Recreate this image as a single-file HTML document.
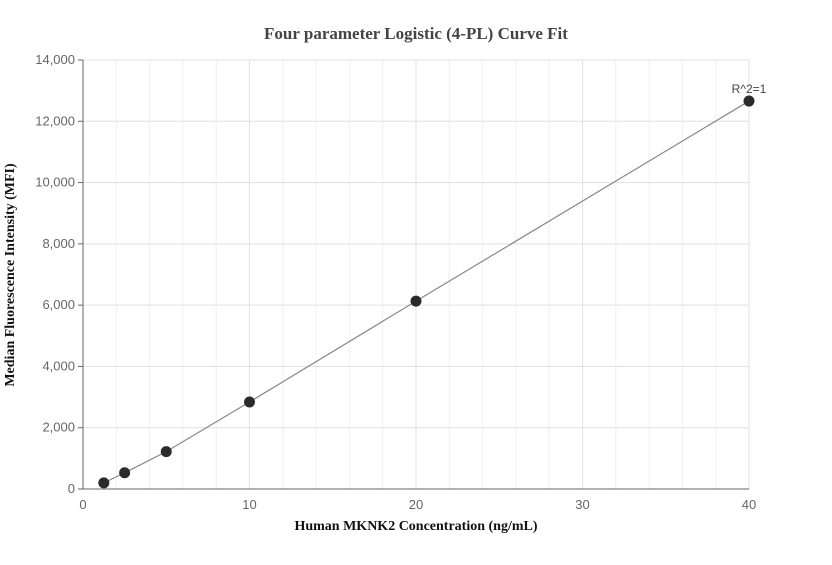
<!DOCTYPE html>
<html><head><meta charset="utf-8"><style>
body{margin:0;background:#fff;}
svg{font-family:"Liberation Sans",sans-serif;}
</style></head><body>
<svg id="c" width="832" height="560"></svg>
<script>
const xTicks=[0,10,20,30,40];
const yTicks=[0,2000,4000,6000,8000,10000,12000,14000];
const xVals=[1.25,2.5,5,10,20,40];
const yVals=[200,530,1220,2840,6130,12660];
const svg=document.getElementById('c');
const NS='http://www.w3.org/2000/svg';
const X0=83,X1=749,Y0=489,Y1=60;
const sx=v=>X0+(v-0)/(40-0)*(X1-X0);
const sy=v=>Y0-(v-0)/(14000-0)*(Y0-Y1);
function mk(t,a,txt){const e=document.createElementNS(NS,t);for(const k in a)e.setAttribute(k,a[k]);if(txt!==undefined)e.textContent=txt;svg.appendChild(e);return e;}
for(let v=2;v<40;v+=2){if(v%10===0)continue;
const g=mk('line',{x1:sx(v),x2:sx(v),y1:Y1,y2:Y0,stroke:'#f0f0f0','stroke-width':1});

}
xTicks.forEach(v=>{
if(v>0){const g=mk('line',{x1:sx(v),x2:sx(v),y1:Y1,y2:Y0,stroke:'#e0e0e0','stroke-width':1});

}
const t=mk('text',{x:sx(v),y:Y0+20,'text-anchor':'middle','font-size':13,fill:'#666'},String(v));


});
yTicks.forEach(v=>{
if(v>0){const g=mk('line',{x1:X0,x2:X1,y1:sy(v),y2:sy(v),stroke:'#e0e0e0','stroke-width':1});

}
const tk=mk('line',{x1:X0-5,x2:X0,y1:sy(v),y2:sy(v),stroke:'#666'});


const t=mk('text',{x:X0-8,y:sy(v)+4,'text-anchor':'end','font-size':13,fill:'#666'},v.toLocaleString('en-US'));


});
const ax=mk('line',{x1:X0,x2:X0,y1:Y1,y2:Y0,stroke:'#666'});


const bx=mk('line',{x1:X0,x2:X1,y1:Y0,y2:Y0,stroke:'#666'});


const pl=mk('polyline',{points:xVals.map((v,i)=>sx(v)+','+sy(yVals[i])).join(' '),fill:'none',stroke:'#888','stroke-width':1.2});


xVals.forEach((v,i)=>{
const c=mk('circle',{cx:sx(v),cy:sy(yVals[i]),r:5.5,fill:'#2b2b2b'});


});
const r=mk('text',{x:sx(40),y:sy(yVals[5])-8,'text-anchor':'middle','font-size':12,fill:'#444'},'R^2=1');


const ti=mk('text',{x:416,y:39,'text-anchor':'middle','font-size':17,'font-weight':'bold',fill:'#444','font-family':'Liberation Serif,serif'},'Four parameter Logistic (4-PL) Curve Fit');


const xt=mk('text',{x:416,y:530,'text-anchor':'middle','font-size':14,'font-weight':'bold',fill:'#111','font-family':'Liberation Serif,serif'},'Human MKNK2 Concentration (ng/mL)');


const yt=mk('text',{x:0,y:0,transform:'translate(14,275) rotate(-90)','text-anchor':'middle','font-size':14,'font-weight':'bold',fill:'#111','font-family':'Liberation Serif,serif'},'Median Fluorescence Intensity (MFI)');


</script>
</body></html>
